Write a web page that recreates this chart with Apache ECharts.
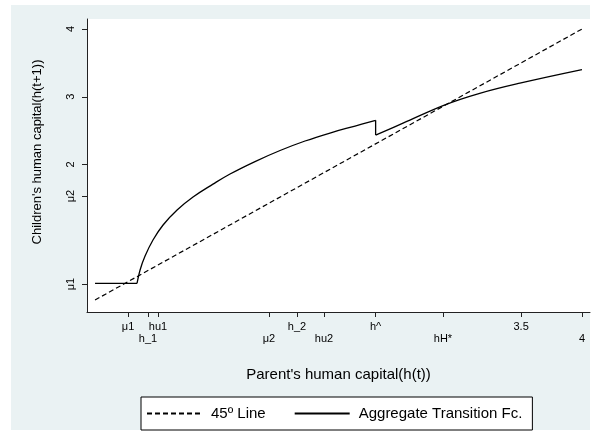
<!DOCTYPE html>
<html>
<head>
<meta charset="utf-8">
<script src="https://cdn.jsdelivr.net/npm/echarts@6/dist/echarts.min.js"></script>
<style>
  html, body { margin: 0; padding: 0; background: #fff; }
  #transChart { width: 595px; height: 434px; }
</style>
</head>
<body>
<div id="transChart"></div>
<script>
// 45 degree reference line
const diagLine = [[0, 0], [4, 4]];
// aggregate transition function in pieces
const flatPart = [[0, 0.245], [0.345, 0.245]];
const upperBranch = [[0.345, 0.245], [0.37, 0.443], [0.411, 0.649], [0.476, 0.886], [0.559, 1.107],
  [0.674, 1.328], [0.805, 1.52], [0.969, 1.71], [1.109, 1.86], [1.314, 2.044], [1.52, 2.207],
  [1.725, 2.347], [1.93, 2.465], [2.136, 2.568], [2.305, 2.652]];
const jumpPart = [[2.305, 2.652], [2.305, 2.435]];
const lowerBranch = [[2.305, 2.435], [2.53, 2.61], [2.875, 2.88], [3.16, 3.05], [3.49, 3.2], [4, 3.4]];

// tick marks
const xTickVals = [0.271, 0.435, 0.517, 1.429, 1.659, 1.881, 2.305, 2.858, 3.5, 4];
const xTickLabels = ['μ1', 'h_1', 'hu1', 'μ2', 'h_2', 'hu2', 'h^', 'hH*', '3.5', '4'];
const yTickVals = [0.236, 1.535, 2, 3, 4];
const yTickLabels = ['μ1', 'μ2', '2', '3', '4'];

const FONT = "'Liberation Sans', Arial, sans-serif";

function findLabel(vals, v) {
  for (let i = 0; i < vals.length; i++) {
    if (Math.abs(vals[i] - v) < 1e-6) return i;
  }
  return -1;
}

const chart = echarts.init(document.getElementById('transChart'));

function curveSeries(data, smooth) {
  return {
    name: 'Aggregate Transition Fc.',
    type: 'line',
    data: data,
    symbol: 'none',
    smooth: smooth,
    lineStyle: { color: '#000', width: 1.3 },
    itemStyle: { color: '#000' }
  };
}

chart.setOption({
  animation: false,
  graphic: [
    {
      type: 'rect',
      z: -10,
      silent: true,
      shape: { x: 11, y: 5, width: 579, height: 425 },
      style: { fill: '#eaf2f3' }
    },
    {
      // y axis title, placed by hand (it is not centred on the plot in the original)
      type: 'text',
      x: 37,
      y: 152,
      rotation: Math.PI / 2,
      silent: true,
      style: {
        text: "Children's human capital(h(t+1))",
        font: '13px ' + FONT,
        fill: '#000',
        textAlign: 'center',
        textVerticalAlign: 'middle'
      }
    }
  ],
  grid: {
    left: 87, right: 5, top: 19, bottom: 122,
    show: true, backgroundColor: '#fff', borderWidth: 0
  },
  legend: {
    left: 141, top: 397,
    padding: [9, 10, 9, 5],
    itemGap: 28,
    itemWidth: 55,
    itemHeight: 14,
    borderColor: '#000',
    borderWidth: 1,
    backgroundColor: '#fff',
    itemStyle: { opacity: 0 },
    textStyle: { fontFamily: FONT, fontSize: 15, color: '#000', padding: [0, 0, 0, 4] },
    data: ['45º Line', 'Aggregate Transition Fc.']
  },
  xAxis: {
    type: 'value',
    min: -0.066, max: 4.066,
    name: "Parent's human capital(h(t))",
    nameLocation: 'middle',
    nameGap: 55,
    nameTextStyle: { fontFamily: FONT, fontSize: 15, color: '#000' },
    axisLine: { show: true, onZero: false, lineStyle: { color: '#222', width: 1 } },
    axisTick: { show: true, length: 5, customValues: xTickVals, lineStyle: { color: '#222' } },
    axisLabel: {
      customValues: xTickVals,
      margin: 9,
      fontFamily: FONT, fontSize: 11, color: '#000', lineHeight: 12,
      formatter: function (v) {
        const i = findLabel(xTickVals, v);
        if (i < 0) return '';
        // labels alternate between two rows
        return i % 2 === 0 ? xTickLabels[i] : '\n' + xTickLabels[i];
      }
    },
    splitLine: { show: false }
  },
  yAxis: {
    type: 'value',
    min: -0.177, max: 4.148,
    axisLine: { show: true, onZero: false, lineStyle: { color: '#222', width: 1 } },
    axisTick: { show: true, length: 5, customValues: yTickVals, lineStyle: { color: '#222' } },
    axisLabel: {
      customValues: yTickVals,
      rotate: 90,
      margin: 11,
      fontFamily: FONT, fontSize: 11, color: '#000',
      formatter: function (v) {
        const i = findLabel(yTickVals, v);
        return i < 0 ? '' : yTickLabels[i];
      }
    },
    splitLine: { show: false }
  },
  series: [
    {
      name: '45º Line',
      type: 'line',
      data: diagLine,
      symbol: 'none',
      lineStyle: { color: '#000', width: 1.2, type: [5, 3] },
      itemStyle: { color: '#000' }
    },
    curveSeries(flatPart, false),
    curveSeries(upperBranch, 0.4),
    curveSeries(jumpPart, false),
    curveSeries(lowerBranch, 0.4)
  ]
});

window.onresize = function () {
  chart.resize();
};
</script>
</body>
</html>
